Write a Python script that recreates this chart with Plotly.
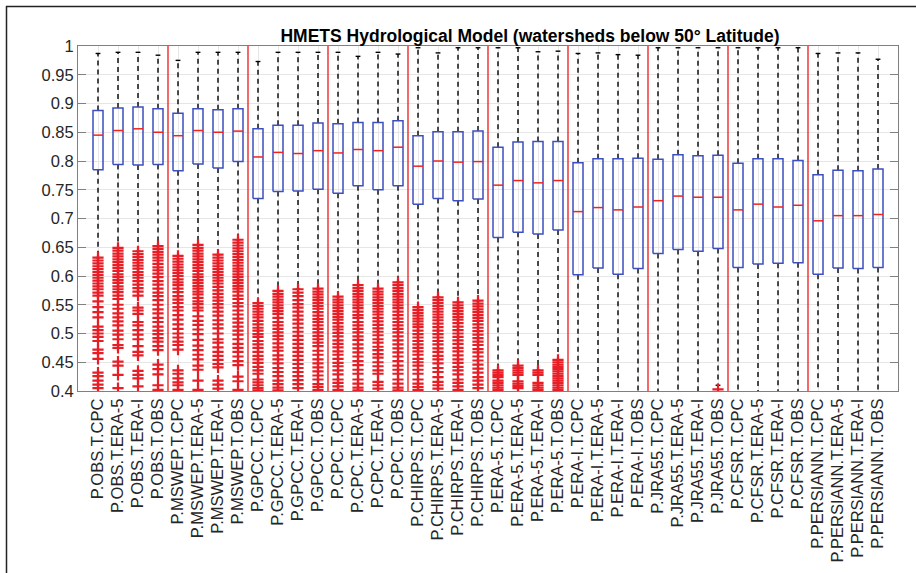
import plotly.graph_objects as go

# ---------------- data ----------------
products = ["OBS", "MSWEP", "GPCC", "CPC", "CHIRPS", "ERA-5", "ERA-I", "JRA55", "CFSR", "PERSIANN"]
temps = ["CPC", "ERA-5", "ERA-I", "OBS"]
labels = [f"P.{p}.T.{t}" for p in products for t in temps]

q3 = [0.888, 0.892, 0.894, 0.891, 0.883, 0.891, 0.889, 0.891,
      0.856, 0.862, 0.862, 0.866, 0.865, 0.867, 0.867, 0.870,
      0.844, 0.851, 0.851, 0.852, 0.824, 0.833, 0.834, 0.834,
      0.797, 0.804, 0.804, 0.805, 0.803, 0.811, 0.809, 0.810,
      0.796, 0.804, 0.804, 0.801, 0.776, 0.784, 0.783, 0.786]
median = [0.845, 0.853, 0.856, 0.850, 0.844, 0.853, 0.850, 0.852,
          0.807, 0.815, 0.813, 0.818, 0.814, 0.820, 0.818, 0.824,
          0.791, 0.800, 0.798, 0.799, 0.758, 0.766, 0.762, 0.766,
          0.712, 0.719, 0.715, 0.720, 0.731, 0.739, 0.737, 0.737,
          0.715, 0.725, 0.720, 0.723, 0.696, 0.705, 0.705, 0.707]
q1 = [0.785, 0.794, 0.793, 0.794, 0.783, 0.795, 0.788, 0.799,
      0.735, 0.747, 0.748, 0.751, 0.744, 0.757, 0.750, 0.757,
      0.725, 0.735, 0.731, 0.734, 0.667, 0.676, 0.673, 0.680,
      0.602, 0.614, 0.603, 0.613, 0.639, 0.646, 0.643, 0.648,
      0.615, 0.621, 0.622, 0.623, 0.603, 0.614, 0.613, 0.615]
upper_whisker = [0.987, 0.989, 0.989, 0.984, 0.975, 0.989, 0.989, 0.989,
                 0.973, 0.989, 0.989, 0.989, 0.989, 0.982, 0.989, 0.986,
                 0.997, 0.988, 0.997, 0.997, 0.997, 0.997, 0.990, 0.991,
                 0.987, 0.988, 0.985, 0.984, 0.997, 0.997, 0.997, 0.997,
                 0.997, 0.997, 0.997, 0.997, 0.987, 0.988, 0.988, 0.977]
lower_whisker = [0.632, 0.649, 0.643, 0.652, 0.635, 0.654, 0.637, 0.663,
                 0.553, 0.574, 0.577, 0.578, 0.564, 0.584, 0.578, 0.589,
                 0.546, 0.563, 0.554, 0.557, 0.436, 0.444, 0.436, 0.454,
                 0.38, 0.38, 0.38, 0.38, 0.38, 0.38, 0.38, 0.41,
                 0.38, 0.38, 0.38, 0.38, 0.38, 0.38, 0.38, 0.38]
outliers = [
    [0.632, 0.627, 0.622, 0.617, 0.612, 0.607, 0.602, 0.597, 0.592, 0.587, 0.582, 0.577, 0.571, 0.566, 0.556, 0.546, 0.537, 0.528, 0.512, 0.506, 0.5, 0.494, 0.487, 0.472, 0.466, 0.456, 0.432, 0.426, 0.418, 0.411, 0.405],
    [0.649, 0.644, 0.639, 0.634, 0.629, 0.624, 0.619, 0.614, 0.609, 0.603, 0.598, 0.593, 0.588, 0.582, 0.577, 0.572, 0.566, 0.56, 0.55, 0.543, 0.535, 0.528, 0.521, 0.514, 0.505, 0.498, 0.49, 0.48, 0.475, 0.451, 0.444, 0.428, 0.405],
    [0.643, 0.638, 0.633, 0.628, 0.623, 0.618, 0.613, 0.607, 0.602, 0.597, 0.591, 0.585, 0.579, 0.573, 0.566, 0.545, 0.54, 0.534, 0.52, 0.514, 0.506, 0.498, 0.49, 0.478, 0.468, 0.462, 0.435, 0.428, 0.422, 0.408],
    [0.652, 0.647, 0.642, 0.637, 0.632, 0.627, 0.621, 0.615, 0.61, 0.604, 0.598, 0.591, 0.585, 0.578, 0.571, 0.565, 0.558, 0.55, 0.542, 0.535, 0.527, 0.52, 0.512, 0.505, 0.499, 0.492, 0.486, 0.478, 0.471, 0.446, 0.438, 0.429, 0.41, 0.402],
    [0.635, 0.63, 0.625, 0.62, 0.615, 0.61, 0.605, 0.6, 0.594, 0.589, 0.584, 0.578, 0.572, 0.565, 0.559, 0.553, 0.546, 0.54, 0.532, 0.524, 0.516, 0.508, 0.5, 0.493, 0.486, 0.48, 0.472, 0.436, 0.43, 0.422, 0.415, 0.41, 0.402],
    [0.654, 0.649, 0.644, 0.639, 0.634, 0.629, 0.624, 0.619, 0.614, 0.609, 0.603, 0.598, 0.593, 0.588, 0.583, 0.578, 0.573, 0.568, 0.562, 0.556, 0.551, 0.545, 0.54, 0.53, 0.522, 0.515, 0.507, 0.499, 0.489, 0.479, 0.471, 0.463, 0.455, 0.444, 0.437, 0.418, 0.402],
    [0.637, 0.632, 0.627, 0.622, 0.617, 0.612, 0.607, 0.602, 0.597, 0.592, 0.587, 0.581, 0.575, 0.569, 0.563, 0.557, 0.551, 0.545, 0.538, 0.531, 0.523, 0.516, 0.509, 0.5, 0.49, 0.484, 0.476, 0.468, 0.461, 0.454, 0.447, 0.441, 0.418, 0.411, 0.404],
    [0.663, 0.658, 0.653, 0.648, 0.643, 0.638, 0.633, 0.628, 0.623, 0.618, 0.613, 0.608, 0.603, 0.598, 0.593, 0.588, 0.583, 0.578, 0.573, 0.566, 0.56, 0.553, 0.547, 0.54, 0.533, 0.526, 0.519, 0.512, 0.505, 0.498, 0.49, 0.482, 0.475, 0.468, 0.46, 0.452, 0.445, 0.425, 0.417, 0.402],
    [0.553, 0.548, 0.543, 0.538, 0.533, 0.528, 0.522, 0.516, 0.51, 0.505, 0.499, 0.494, 0.487, 0.481, 0.475, 0.468, 0.461, 0.455, 0.449, 0.442, 0.436, 0.43, 0.42, 0.415, 0.41, 0.405, 0.401],
    [0.574, 0.569, 0.564, 0.559, 0.554, 0.549, 0.544, 0.539, 0.534, 0.527, 0.52, 0.514, 0.508, 0.502, 0.496, 0.49, 0.483, 0.476, 0.47, 0.462, 0.455, 0.448, 0.44, 0.433, 0.426, 0.418, 0.412, 0.406, 0.401],
    [0.577, 0.571, 0.565, 0.558, 0.551, 0.545, 0.538, 0.531, 0.524, 0.517, 0.51, 0.503, 0.496, 0.489, 0.482, 0.475, 0.468, 0.461, 0.454, 0.447, 0.44, 0.433, 0.426, 0.419, 0.412, 0.405],
    [0.578, 0.573, 0.568, 0.563, 0.558, 0.553, 0.548, 0.543, 0.537, 0.531, 0.525, 0.52, 0.514, 0.508, 0.502, 0.496, 0.49, 0.484, 0.478, 0.47, 0.463, 0.455, 0.448, 0.441, 0.434, 0.427, 0.42, 0.412, 0.407, 0.402],
    [0.564, 0.559, 0.554, 0.549, 0.544, 0.539, 0.534, 0.529, 0.524, 0.518, 0.512, 0.507, 0.501, 0.495, 0.488, 0.482, 0.476, 0.469, 0.463, 0.456, 0.449, 0.443, 0.436, 0.429, 0.42, 0.414, 0.408, 0.402],
    [0.584, 0.579, 0.574, 0.569, 0.564, 0.559, 0.554, 0.549, 0.544, 0.538, 0.532, 0.527, 0.52, 0.514, 0.508, 0.502, 0.495, 0.489, 0.481, 0.474, 0.467, 0.46, 0.452, 0.445, 0.437, 0.43, 0.42, 0.413, 0.406, 0.401],
    [0.578, 0.573, 0.568, 0.563, 0.558, 0.553, 0.548, 0.543, 0.538, 0.533, 0.527, 0.521, 0.515, 0.509, 0.503, 0.497, 0.49, 0.484, 0.477, 0.471, 0.464, 0.458, 0.45, 0.443, 0.436, 0.43, 0.416, 0.41, 0.404],
    [0.589, 0.584, 0.579, 0.574, 0.569, 0.564, 0.559, 0.554, 0.549, 0.544, 0.538, 0.532, 0.526, 0.52, 0.514, 0.508, 0.502, 0.495, 0.488, 0.481, 0.474, 0.467, 0.46, 0.452, 0.444, 0.437, 0.43, 0.42, 0.413, 0.406, 0.401],
    [0.546, 0.541, 0.536, 0.531, 0.526, 0.521, 0.516, 0.511, 0.505, 0.499, 0.493, 0.487, 0.481, 0.475, 0.469, 0.463, 0.456, 0.45, 0.444, 0.437, 0.43, 0.42, 0.413, 0.407, 0.402],
    [0.563, 0.558, 0.553, 0.548, 0.543, 0.538, 0.533, 0.528, 0.523, 0.517, 0.511, 0.505, 0.499, 0.493, 0.487, 0.481, 0.474, 0.468, 0.461, 0.455, 0.448, 0.44, 0.433, 0.424, 0.416, 0.41, 0.404],
    [0.554, 0.549, 0.544, 0.539, 0.534, 0.529, 0.524, 0.518, 0.512, 0.506, 0.5, 0.494, 0.488, 0.482, 0.475, 0.469, 0.462, 0.455, 0.449, 0.442, 0.436, 0.429, 0.42, 0.414, 0.408, 0.402],
    [0.557, 0.552, 0.547, 0.542, 0.537, 0.532, 0.527, 0.522, 0.516, 0.51, 0.504, 0.498, 0.492, 0.486, 0.48, 0.473, 0.467, 0.46, 0.453, 0.446, 0.439, 0.432, 0.424, 0.418, 0.411, 0.405],
    [0.436, 0.432, 0.428, 0.424, 0.418, 0.414, 0.41, 0.406, 0.402],
    [0.444, 0.44, 0.436, 0.432, 0.428, 0.417, 0.413, 0.409, 0.405],
    [0.436, 0.432, 0.428, 0.414, 0.41, 0.406, 0.402],
    [0.454, 0.45, 0.446, 0.442, 0.438, 0.434, 0.43, 0.426, 0.422, 0.418, 0.414, 0.41, 0.406, 0.402],
    [], [], [], [], [], [], [], [0.403],
    [], [], [], [], [], [], [], [],
]
y_ticks = [0.4, 0.45, 0.5, 0.55, 0.6, 0.65, 0.7, 0.75, 0.8, 0.85, 0.9, 0.95, 1.0]
y_tick_text = ["0.4", "0.45", "0.5", "0.55", "0.6", "0.65", "0.7", "0.75", "0.8", "0.85", "0.9", "0.95", "1"]
title = "HMETS Hydrological Model (watersheds below 50° Latitude)"

# ---------------- geometry helpers ----------------
positions = list(range(1, len(labels) + 1))
HW = 0.25   # box half width
CW = 0.12   # whisker cap half width

box_x, box_y, med_x, med_y = [], [], [], []
wh_x, wh_y, cap_x, cap_y, out_x, out_y = [], [], [], [], [], []
for i, x in enumerate(positions):
    box_x += [x - HW, x + HW, x + HW, x - HW, x - HW, None]
    box_y += [q1[i], q1[i], q3[i], q3[i], q1[i], None]
    med_x += [x - HW, x + HW, None]
    med_y += [median[i], median[i], None]
    wh_x += [x, x, None, x, x, None]
    wh_y += [q3[i], upper_whisker[i], None, q1[i], lower_whisker[i], None]
    cap_x += [x - CW, x + CW, None, x - CW, x + CW, None]
    cap_y += [upper_whisker[i], upper_whisker[i], None, lower_whisker[i], lower_whisker[i], None]
    out_x += [x] * len(outliers[i])
    out_y += outliers[i]

FONT = "Liberation Sans, Arial, Helvetica, sans-serif"
fig = go.Figure()
fig.add_trace(go.Scatter(x=wh_x, y=wh_y, mode="lines",
                         line=dict(color="black", width=1.4, dash="5px,4px"), hoverinfo="skip"))
fig.add_trace(go.Scatter(x=cap_x, y=cap_y, mode="lines",
                         line=dict(color="black", width=1.4), hoverinfo="skip"))
fig.add_trace(go.Scatter(x=box_x, y=box_y, mode="lines",
                         line=dict(color="#3c4fbf", width=1.5), hoverinfo="skip"))
fig.add_trace(go.Scatter(x=med_x, y=med_y, mode="lines",
                         line=dict(color="#ee2222", width=1.5), hoverinfo="skip"))
fig.add_trace(go.Scatter(x=out_x, y=out_y, mode="markers",
                         marker=dict(symbol="cross-thin", size=8,
                                     line=dict(color="#e81e26", width=2.2)),
                         hoverinfo="skip"))

# red separators between product groups
n_t = len(temps)
for g in range(1, len(products)):
    xb = g * n_t + 0.5
    fig.add_shape(type="line", x0=xb, x1=xb, y0=0, y1=1, xref="x", yref="paper",
                  line=dict(color="#ee2a2a", width=1.4), layer="above")

# outer figure frame (top and left visible)
L, R, T, B = 78, 18, 46, 182
W, H = 916, 573
pw, ph = W - L - R, H - T - B
def px_to_paper_x(px):
    return (px - L) / pw
def px_to_paper_y(py):
    return (H - B - py) / ph
fig.add_shape(type="line", xref="paper", yref="paper",
              x0=px_to_paper_x(6.5), x1=px_to_paper_x(6.5),
              y0=px_to_paper_y(6), y1=px_to_paper_y(H + 5),
              line=dict(color="#222222", width=1.5))
fig.add_shape(type="line", xref="paper", yref="paper",
              x0=px_to_paper_x(6), x1=px_to_paper_x(W + 5),
              y0=px_to_paper_y(6.5), y1=px_to_paper_y(6.5),
              line=dict(color="#222222", width=1.5))

fig.update_layout(
    width=W, height=H,
    margin=dict(l=L, r=R, t=T, b=B),
    paper_bgcolor="white", plot_bgcolor="white",
    showlegend=False,
    title=dict(text=f"<b>{title}</b>", x=px_to_paper_x(530), xref="paper", xanchor="center",
               y=1 - 35.5 / H, yref="container", yanchor="middle",
               font=dict(family=FONT, size=17.5, color="black")),
    xaxis=dict(range=[0, len(labels) + 1], tickvals=positions, ticktext=labels,
               tickangle=-90, showgrid=True, gridcolor="#e6e6e6", gridwidth=1,
               showline=True, linecolor="#808080", linewidth=1, mirror=True,
               ticks="", zeroline=False,
               tickfont=dict(family=FONT, size=16.5, color="#262626")),
    yaxis=dict(range=[0.4, 1.0], tickvals=y_ticks, ticktext=y_tick_text,
               showgrid=True, gridcolor="#e6e6e6", gridwidth=1,
               showline=True, linecolor="#808080", linewidth=1, mirror="ticks",
               ticks="inside", ticklen=8, tickcolor="#808080", zeroline=False,
               tickfont=dict(family=FONT, size=16.5, color="#262626")),
)

fig.write_html("out.html")
